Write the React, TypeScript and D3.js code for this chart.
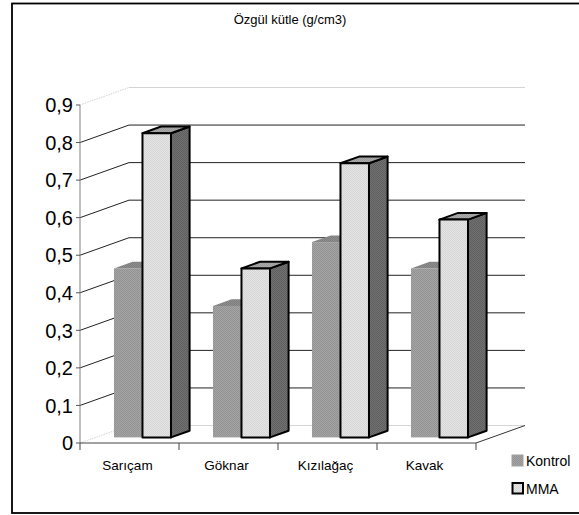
import React from "react";
import * as d3 from "d3";

const categories = ["Sarıçam", "Göknar", "Kızılağaç", "Kavak"];
const seriesNames = ["Kontrol", "MMA"];
const kontrolValues = [0.45, 0.35, 0.52, 0.45];
const mmaValues = [0.81, 0.45, 0.73, 0.58];
const yTicks = [0, 0.1, 0.2, 0.3, 0.4, 0.5, 0.6, 0.7, 0.8, 0.9];
const yTickLabels = ["0", "0,1", "0,2", "0,3", "0,4", "0,5", "0,6", "0,7", "0,8", "0,9"];
const title = "Özgül kütle (g/cm3)";

const W = 579;
const H = 515;
const FONT = "'Liberation Sans', Arial, Helvetica, sans-serif";
const DX = 49;
const DY = -17.5;
const F1 = 0.32;
const F2 = 0.7;

export default function App() {
  const y = d3.scaleLinear().domain([0, 0.9]).range([443, 105]);
  const x0 = d3.scaleBand().domain(categories).range([80, 476]);
  const x1 = d3.scaleBand().domain(seriesNames).range([18.3, 75.3]);
  const xLeft = 80;
  const xRight = 476;
  const bw = x1.bandwidth();
  const ddx = (F2 - F1) * DX;
  const ddy = (F2 - F1) * DY;

  const seriesValues: number[][] = [kontrolValues, mmaValues];
  const styles = [
    { front: "url(#pK)", top: "url(#pKt)", side: "url(#pKs)", stroke: "none", sw: 0 },
    { front: "url(#pM)", top: "url(#pMt)", side: "url(#pMs)", stroke: "#000", sw: 2 },
  ];

  const pts = (arr: number[][]) => arr.map((p) => p.join(",")).join(" ");

  const bars: React.ReactNode[] = [];
  categories.forEach((c, ci) => {
    seriesNames.forEach((s, si) => {
      const v = seriesValues[si][ci];
      const xl = (x0(c) as number) + (x1(s) as number) + F1 * DX;
      const xr = xl + bw;
      const yt = y(v) + F1 * DY;
      const yb = y(0) + F1 * DY;
      const st = styles[si];
      bars.push(
        <g key={c + s} strokeLinejoin="round">
          <polygon
            points={pts([[xr, yt], [xr + ddx, yt + ddy], [xr + ddx, yb + ddy], [xr, yb]])}
            fill={st.side}
            stroke={st.stroke}
            strokeWidth={st.sw}
          />
          <polygon
            points={pts([[xl, yt], [xr, yt], [xr + ddx, yt + ddy], [xl + ddx, yt + ddy]])}
            fill={st.top}
            stroke={st.stroke}
            strokeWidth={st.sw}
          />
          <rect x={xl} y={yt} width={bw} height={yb - yt} fill={st.front} stroke={st.stroke} strokeWidth={st.sw} />
        </g>
      );
    });
  });

  const pat = (id: string, a: string, b: string) => (
    <pattern id={id} width={2} height={2} patternUnits="userSpaceOnUse">
      <rect width={2} height={2} fill={a} />
      <rect width={1} height={1} fill={b} />
      <rect x={1} y={1} width={1} height={1} fill={b} />
    </pattern>
  );

  return (
    <svg width={W} height={H} style={{ position: "absolute", left: 0, top: 0, background: "#fff" }} fontFamily={FONT}>
      <defs>
        {pat("pK", "#a4a4a4", "#939393")}
        {pat("pKt", "#8e8e8e", "#7e7e7e")}
        {pat("pKs", "#6e6e6e", "#5e5e5e")}
        {pat("pM", "#e4e4e4", "#d6d6d6")}
        {pat("pMt", "#aaaaaa", "#9a9a9a")}
        {pat("pMs", "#707070", "#606060")}
      </defs>
      <rect x={0} y={0} width={W} height={H} fill="#fff" />
      <rect x={12} y={3.5} width={620} height={509.5} fill="none" stroke="#000" strokeWidth={1.8} />
      <text x={290} y={24} textAnchor="middle" fontSize={13} fill="#000">{title}</text>

      {/* walls: diagonals and back gridlines */}
      {yTicks.map((t, i) => {
        const light = i === 0 || i === yTicks.length - 1;
        const col = light ? "#d4d4d4" : "#222";
        return (
          <g key={"g" + i}>
            <line x1={xLeft} y1={y(t)} x2={xLeft + DX} y2={y(t) + DY} stroke={col} strokeWidth={1} strokeDasharray={light ? "1.5,1" : undefined} />
            <line x1={xLeft + DX} y1={y(t) + DY} x2={xRight + DX} y2={y(t) + DY} stroke={col} strokeWidth={1} />
          </g>
        );
      })}
      {/* floor right edge */}
      <line x1={xRight} y1={y(0)} x2={xRight + DX} y2={y(0) + DY} stroke="#333" strokeWidth={1} />

      {bars}

      {/* y axis */}
      <line x1={xLeft} y1={y(0)} x2={xLeft} y2={y(0.9)} stroke="#808080" strokeWidth={1} />
      {yTicks.map((t, i) => (
        <g key={"yt" + i}>
          <line x1={xLeft - 4} y1={y(t)} x2={xLeft} y2={y(t)} stroke="#555" strokeWidth={1} />
          <text x={xLeft - 7} y={y(t)} dy="0.36em" textAnchor="end" fontSize={20} fill="#000">{yTickLabels[i]}</text>
        </g>
      ))}
      {/* x axis */}
      <line x1={xLeft} y1={y(0)} x2={xRight} y2={y(0)} stroke="#444" strokeWidth={1} />
      {[...categories.map((c) => x0(c) as number), xRight].map((xv, i) => (
        <line key={"xt" + i} x1={xv} y1={y(0)} x2={xv} y2={y(0) + 7} stroke="#444" strokeWidth={1} />
      ))}
      {categories.map((c) => (
        <text key={"xl" + c} x={(x0(c) as number) + x0.bandwidth() / 2 - 2} y={470} textAnchor="middle" fontSize={13.5} fill="#000">{c}</text>
      ))}

      {/* legend */}
      <rect x={512} y={455} width={11} height={11} fill="url(#pK)" stroke="#a0a0a0" strokeWidth={1} />
      <text x={526} y={461} dy="0.36em" fontSize={14} fill="#000">{seriesNames[0]}</text>
      <rect x={512.5} y={483} width={10.5} height={10.5} fill="url(#pM)" stroke="#000" strokeWidth={2} />
      <text x={526} y={488.5} dy="0.36em" fontSize={14} fill="#000">{seriesNames[1]}</text>
    </svg>
  );
}
